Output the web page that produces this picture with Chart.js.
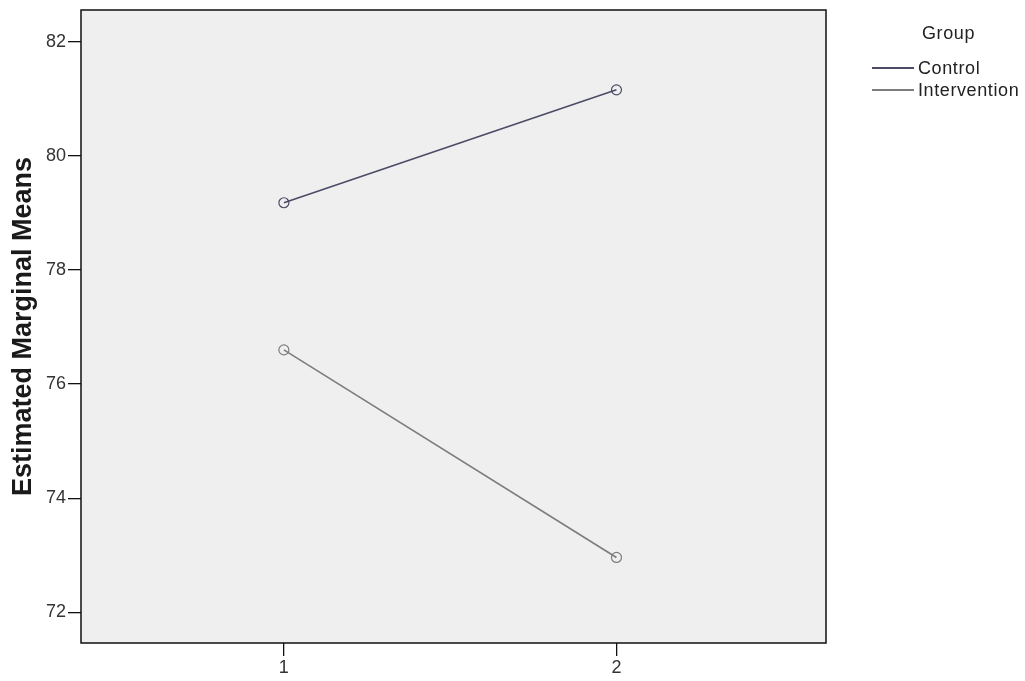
<!DOCTYPE html>
<html>
<head>
<meta charset="utf-8">
<script src="https://cdn.jsdelivr.net/npm/chart.js@4/dist/chart.umd.min.js"></script>
<style>
  html, body { margin: 0; padding: 0; background: #fff; }
  #wrap { position: relative; width: 1025px; height: 681px; }
  #legend { font-family: Arial, "Liberation Sans", sans-serif; font-size: 18px; color: #222; letter-spacing: 0.6px; }
  #legend div { position: absolute; line-height: 22px; height: 22px; white-space: nowrap; }
  #legend .swatch { display: inline-block; width: 42px; height: 0; border-top: 2px solid; vertical-align: middle; margin-right: 4px; position: relative; top: -1px; }
</style>
</head>
<body>
<div id="wrap">
  <canvas id="chart" width="1025" height="681"></canvas>
  <div id="legend"></div>
</div>
<script>
// Données
const timePoints = [1, 2];
const groupNames = ["Control", "Intervention"];
const controlMeans = [79.18, 81.16];
const interventionMeans = [76.60, 72.96];
const yTicks = [72, 74, 76, 78, 80, 82];
const legendTitle = "Group";
const yTitle = "Estimated Marginal Means";

const seriesColors = ["#4b4b66", "#7d7d7d"];

// Fond gris + cadre noir autour de la zone de tracé
const plotFrame = {
    id: 'plotFrame',
    beforeDraw(chart) {
        const { ctx, chartArea: a } = chart;
        ctx.save();
        ctx.fillStyle = '#efefef';
        ctx.fillRect(a.left, a.top, a.right - a.left, a.bottom - a.top);
        ctx.restore();
    },
    afterDraw(chart) {
        const { ctx, chartArea: a } = chart;
        ctx.save();
        ctx.strokeStyle = '#111';
        ctx.lineWidth = 1.5;
        ctx.strokeRect(a.left, a.top, a.right - a.left, a.bottom - a.top);
        ctx.restore();
    }
};

const toPoints = vals => timePoints.map((t, i) => ({ x: t, y: vals[i] }));

const tickFont = { family: 'Arial, "Liberation Sans", sans-serif', size: 18 };

new Chart(document.getElementById('chart'), {
    type: 'line',
    data: {
        datasets: [
            { label: groupNames[0], data: toPoints(controlMeans), borderColor: seriesColors[0], borderWidth: 1.6,
              pointRadius: 5, pointBorderWidth: 1.2, pointBackgroundColor: 'rgba(0,0,0,0)', pointBorderColor: seriesColors[0] },
            { label: groupNames[1], data: toPoints(interventionMeans), borderColor: seriesColors[1], borderWidth: 1.6,
              pointRadius: 5, pointBorderWidth: 1.2, pointBackgroundColor: 'rgba(0,0,0,0)', pointBorderColor: seriesColors[1] }
        ]
    },
    options: {
        responsive: false,
        animation: false,
        layout: { padding: { left: 0, top: 10, right: 199, bottom: 0 } },
        plugins: { legend: { display: false }, tooltip: { enabled: false } },
        scales: {
            x: {
                type: 'linear', min: 0.39, max: 2.63,
                afterBuildTicks: s => { s.ticks = timePoints.map(v => ({ value: v })); },
                afterFit: s => { s.height = 38; s.paddingLeft = 0; s.paddingRight = 0; },
                grid: { drawOnChartArea: false, tickLength: 13, color: '#111', lineWidth: 1.3 },
                border: { display: false },
                ticks: { color: '#333', font: tickFont, padding: 1 }
            },
            y: {
                type: 'linear', min: 71.46, max: 82.56,
                afterBuildTicks: s => { s.ticks = yTicks.map(v => ({ value: v })); },
                afterFit: s => { s.width = 81; s.paddingTop = 0; s.paddingBottom = 0; },
                grid: { drawOnChartArea: false, tickLength: 13, color: '#111', lineWidth: 1.3 },
                border: { display: false },
                title: { display: true, text: yTitle, color: '#1a1a1a', padding: { top: 7, bottom: 0 },
                         font: { family: 'Arial, "Liberation Sans", sans-serif', size: 27, weight: 'bold' } },
                ticks: { color: '#333', font: tickFont, padding: 2 }
            }
        }
    },
    plugins: [plotFrame]
});

// Légende HTML
const legend = document.getElementById('legend');
let html = `<div style="left:922px; top:22px;">${legendTitle}</div>`;
groupNames.forEach((g, i) => {
    html += `<div style="left:872px; top:${57 + i * 22}px;"><span class="swatch" style="border-color:${seriesColors[i]}"></span>${g}</div>`;
});
legend.innerHTML = html;
</script>
</body>
</html>
